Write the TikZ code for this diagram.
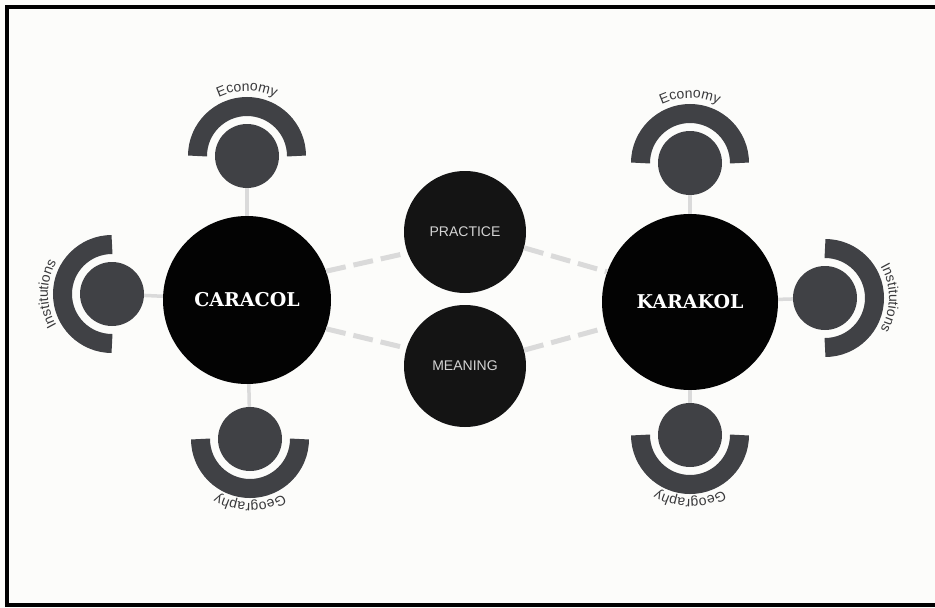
\documentclass[tikz,border=0pt]{standalone}
\usepackage{fontspec}
\usetikzlibrary{decorations.text}
\newfontfamily\labfont{Liberation Sans}
\newfontfamily\hubfont{DejaVu Serif}
\definecolor{bg}{HTML}{FCFCFA}
\definecolor{hubblack}{HTML}{030303}
\definecolor{midblack}{HTML}{141414}
\definecolor{midtext}{HTML}{D4D4D4}
\definecolor{satgray}{HTML}{404145}
\definecolor{linkgray}{HTML}{DADADA}
\definecolor{labgray}{HTML}{3A3A3C}
\begin{document}
\begin{tikzpicture}[x=1pt,y=1pt,
  hub/.style={circle, fill=hubblack, text=white, inner sep=0pt, font=\hubfont\bfseries\fontsize{19}{19}\selectfont},
  mid/.style={circle, fill=midblack, text=midtext, minimum size=122pt, inner sep=0pt, font=\labfont\fontsize{14}{14}\selectfont},
  sat/.style={circle, fill=satgray, minimum size=64pt, inner sep=0pt},
  ring/.style={draw=satgray, line width=19pt},
  link/.style={draw=linkgray, line width=3.5pt},
  dlink/.style={draw=linkgray, line width=5pt, dash pattern=on 20pt off 8pt},
  lbl/.style={decorate, decoration={text along path, text align=center, text color=labgray, text={|\labfont\fontsize{14}{14}\selectfont|#1}}}
]
\useasboundingbox (0,0) rectangle (935,-608);
\fill[bg] (0,0) rectangle (935,-608);
\draw[line width=4pt, black] (940,-7) -- (7,-7) -- (7,-605) -- (940,-605);

% hubs and middle circles
\node[hub, minimum size=168pt] (car) at (247,-300) {CARACOL};
\node[hub, minimum size=176pt] (kar) at (690,-302) {KARAKOL};
\node[mid] (pra) at (465,-232) {PRACTICE};
\node[mid] (mea) at (465,-366) {MEANING};

% satellites
\node[sat] (ceco) at (247,-156) {};
\node[sat] (cins) at (112,-294) {};
\node[sat] (cgeo) at (250,-439) {};
\node[sat] (keco) at (690,-163) {};
\node[sat] (kins) at (825,-298) {};
\node[sat] (kgeo) at (690,-435) {};

% solid connectors
\draw[link] (car) -- (ceco);
\draw[link] (car) -- (cins);
\draw[link] (car) -- (cgeo);
\draw[link] (kar) -- (keco);
\draw[link] (kar) -- (kins);
\draw[link] (kar) -- (kgeo);

% dashed connectors
\draw[dlink] (car.20) -- (pra.200);
\draw[dlink] (car.-20) -- (mea.163);
\draw[dlink] (pra.-15) -- (kar.160);
\draw[dlink] (mea.15) -- (kar.197);

% rings
\draw[ring] ([shift={(0:49.5)}]ceco.center) arc[start angle=0, end angle=180, radius=49.5];
\draw[ring] ([shift={(90:49.5)}]cins.center) arc[start angle=90, end angle=270, radius=49.5];
\draw[ring] ([shift={(180:49.5)}]cgeo.center) arc[start angle=180, end angle=360, radius=49.5];
\draw[ring] ([shift={(0:49.5)}]keco.center) arc[start angle=0, end angle=180, radius=49.5];
\draw[ring] ([shift={(-90:49.5)}]kins.center) arc[start angle=-90, end angle=90, radius=49.5];
\draw[ring] ([shift={(180:49.5)}]kgeo.center) arc[start angle=180, end angle=360, radius=49.5];

% curved labels
\path[lbl=Economy] ([shift={(180:65)}]ceco.center) arc[start angle=180, end angle=0, radius=65];
\path[lbl=Institutions] ([shift={(270:64)}]cins.center) arc[start angle=270, end angle=90, radius=64];
\path[lbl=Geography] ([shift={(360:64)}]cgeo.center) arc[start angle=360, end angle=180, radius=64];
\path[lbl=Economy] ([shift={(180:65)}]keco.center) arc[start angle=180, end angle=0, radius=65];
\path[lbl=Institutions] ([shift={(90:64)}]kins.center) arc[start angle=90, end angle=-90, radius=64];
\path[lbl=Geography] ([shift={(360:64)}]kgeo.center) arc[start angle=360, end angle=180, radius=64];
\end{tikzpicture}
\end{document}
